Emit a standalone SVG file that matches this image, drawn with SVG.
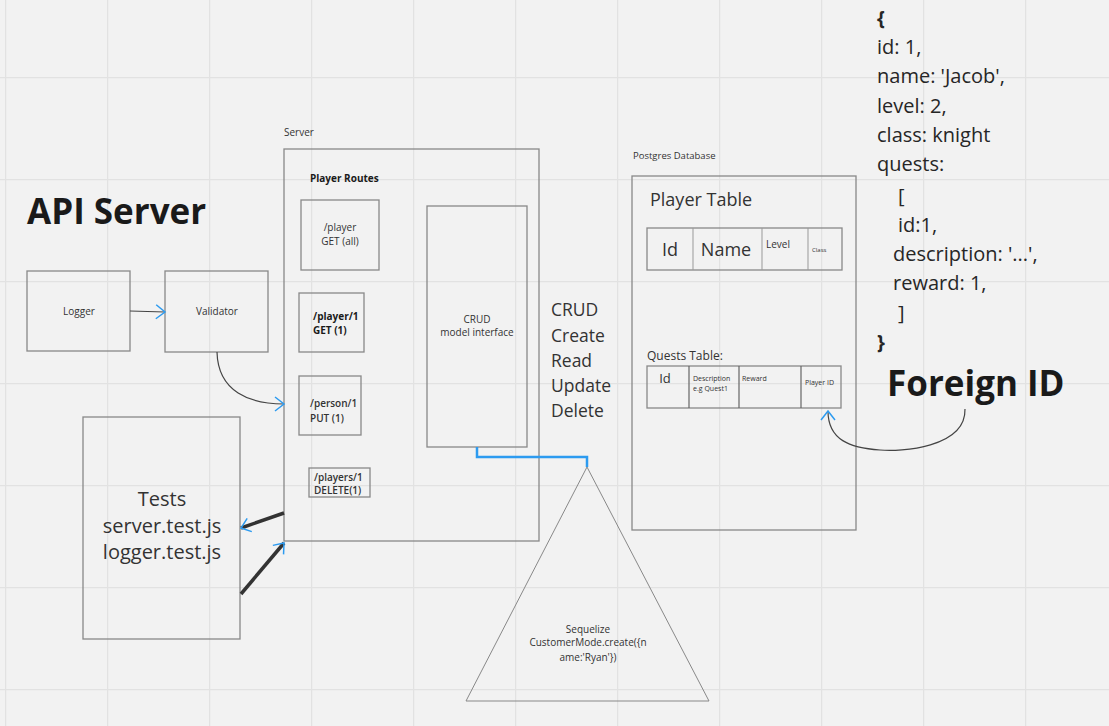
<svg xmlns="http://www.w3.org/2000/svg" width="1109" height="726" viewBox="0 0 1109 726">
<defs>
<pattern id="grid" x="5" y="77" width="102" height="102" patternUnits="userSpaceOnUse">
<path d="M0,0 H102 M0,0 V102" stroke="#e2e2e2" stroke-width="2.5" fill="none"/>
</pattern>
<marker id="chev" markerWidth="20" markerHeight="20" viewBox="-12 -10 14 20" refX="0" refY="0" orient="auto" markerUnits="userSpaceOnUse">
<path d="M-9,-7 L0,0 L-9,7" fill="none" stroke="#2d9bf0" stroke-width="1.5"/>
</marker>
<style>
text{font-family:"Open Sans","Noto Sans","DejaVu Sans",sans-serif;fill:#333}
.box{fill:none;stroke:#888;stroke-width:1.3}
.sm{font-size:10px}
.b{font-weight:bold;fill:#1a1a1a}
.c{text-anchor:middle}
.conn{fill:none;stroke:#444;stroke-width:1.2}
.thick{fill:none;stroke:#333;stroke-width:3.5}
.json{font-size:20px;fill:#262626}
</style>
</defs>
<rect width="1109" height="726" fill="#f2f2f2"/>
<rect width="1109" height="726" fill="url(#grid)"/>

<g id="title"><text x="27" y="224" font-size="35" class="b">API Server</text></g>

<g id="logger"><rect class="box" x="27" y="271" width="103" height="80"/><text class="sm c" x="79" y="315">Logger</text></g>
<g id="validator"><rect class="box" x="165" y="271" width="103" height="81"/><text class="sm c" x="217" y="315">Validator</text></g>

<g id="tests"><rect class="box" x="83" y="417" width="157" height="222"/>
<text class="c" font-size="20" x="162" y="506">Tests</text>
<text class="c" font-size="20" x="162" y="533">server.test.js</text>
<text class="c" font-size="20" x="162" y="559">logger.test.js</text></g>

<g id="server"><text class="sm" x="284" y="136" font-size="9.5">Server</text>
<rect class="box" x="284" y="149" width="255" height="392"/>
<text class="sm b" x="310" y="182">Player Routes</text></g>

<g id="route-get-all"><rect class="box" x="301" y="200" width="78" height="70"/>
<text class="sm c" x="340" y="231">/player</text><text class="sm c" x="340" y="245">GET (all)</text></g>
<g id="route-get-1"><rect class="box" x="299" y="293" width="65" height="59"/>
<text class="sm b" x="313" y="320">/player/1</text><text class="sm b" x="313" y="334">GET (1)</text></g>
<g id="route-put"><rect class="box" x="299" y="376" width="62" height="59"/>
<text class="sm" font-weight="600" x="310" y="407">/person/1</text><text class="sm" font-weight="600" x="310" y="422">PUT (1)</text></g>
<g id="route-delete"><rect class="box" x="309" y="468" width="61" height="29" stroke="#777" stroke-width="1.6"/>
<text class="sm" font-weight="600" x="314" y="481">/players/1</text><text class="sm" font-weight="600" x="314" y="494">DELETE(1)</text></g>

<g id="crud"><rect class="box" x="427" y="206" width="100" height="241"/>
<text class="sm c" x="477" y="323">CRUD</text><text class="sm c" x="477" y="336">model interface</text></g>

<g id="crud-list" font-size="17.5">
<text x="551" y="316" font-size="17.5">CRUD</text>
<text x="551" y="342" font-size="17.5">Create</text>
<text x="551" y="367" font-size="17.5">Read</text>
<text x="551" y="392" font-size="17.5">Update</text>
<text x="551" y="417" font-size="17.5">Delete</text></g>

<g id="sequelize"><polygon points="587,467 466,701 709,701" fill="none" stroke="#888" stroke-width="1"/>
<text class="sm c" x="588" y="633">Sequelize</text>
<text class="sm c" x="588" y="646">CustomerMode.create({n</text>
<text class="sm c" x="588" y="661">ame:'Ryan'})</text></g>

<g id="postgres"><text x="633" y="159" font-size="9.5">Postgres Database</text>
<rect class="box" x="632" y="176" width="224" height="354"/></g>

<g id="player-table"><text x="650" y="206" font-size="18">Player Table</text>
<rect class="box" x="647" y="228" width="195" height="42"/>
<path d="M693,228V270 M762,228V270 M808,228V270" stroke="#999" stroke-width="1"/>
<text x="670" y="256" font-size="18" class="c">Id</text>
<text x="726" y="256" font-size="18" class="c">Name</text>
<text x="766" y="248" font-size="10">Level</text>
<text x="812" y="252" font-size="6" fill="#666">Class</text></g>

<g id="quests-table"><text x="647" y="360" font-size="12">Quests Table:</text>
<rect class="box" x="647" y="366" width="194" height="42" stroke="#666"/>
<path d="M689,366V408 M739,366V408 M801,366V408" stroke="#666" stroke-width="1.2"/>
<text x="665" y="383" font-size="13" class="c">Id</text>
<text x="693" y="381" font-size="7" fill="#666">Description</text>
<text x="693" y="391" font-size="7" fill="#666">e.g Quest1</text>
<text x="742" y="381" font-size="7" fill="#666">Reward</text>
<text x="805" y="385" font-size="7" fill="#666">Player ID</text></g>

<g id="foreign-id"><text x="887" y="396" font-size="35" class="b">Foreign ID</text></g>

<g id="json" class="json">
<text x="877" y="25" class="json b">{</text>
<text x="877" y="54" class="json">id: 1,</text>
<text x="877" y="83" class="json">name: 'Jacob',</text>
<text x="877" y="113" class="json">level: 2,</text>
<text x="877" y="142" class="json">class: knight</text>
<text x="877" y="171" class="json">quests:</text>
<text x="898" y="203" class="json">[</text>
<text x="898" y="232" class="json">id:1,</text>
<text x="893" y="261" class="json">description: '...',</text>
<text x="893" y="290" class="json">reward: 1,</text>
<text x="898" y="320" class="json">]</text>
<text x="877" y="349" class="json b">}</text></g>

<g id="connectors">
<path class="conn" d="M130,311 L165,312" marker-end="url(#chev)"/>
<path class="conn" d="M217,352 C218,392 250,404 284,404" marker-end="url(#chev)"/>
<path class="thick" d="M284,513 L241,528" marker-end="url(#chev)"/>
<path class="thick" d="M241,594 L284,543" marker-end="url(#chev)"/>
<path d="M477,447 V457 H587 V467" fill="none" stroke="#2d9bf0" stroke-width="2.5"/>
<path class="conn" d="M965,409 C966,448 900,452 880,450 C850,448 828,440 828,411" marker-end="url(#chev)"/>
</g>
</svg>
